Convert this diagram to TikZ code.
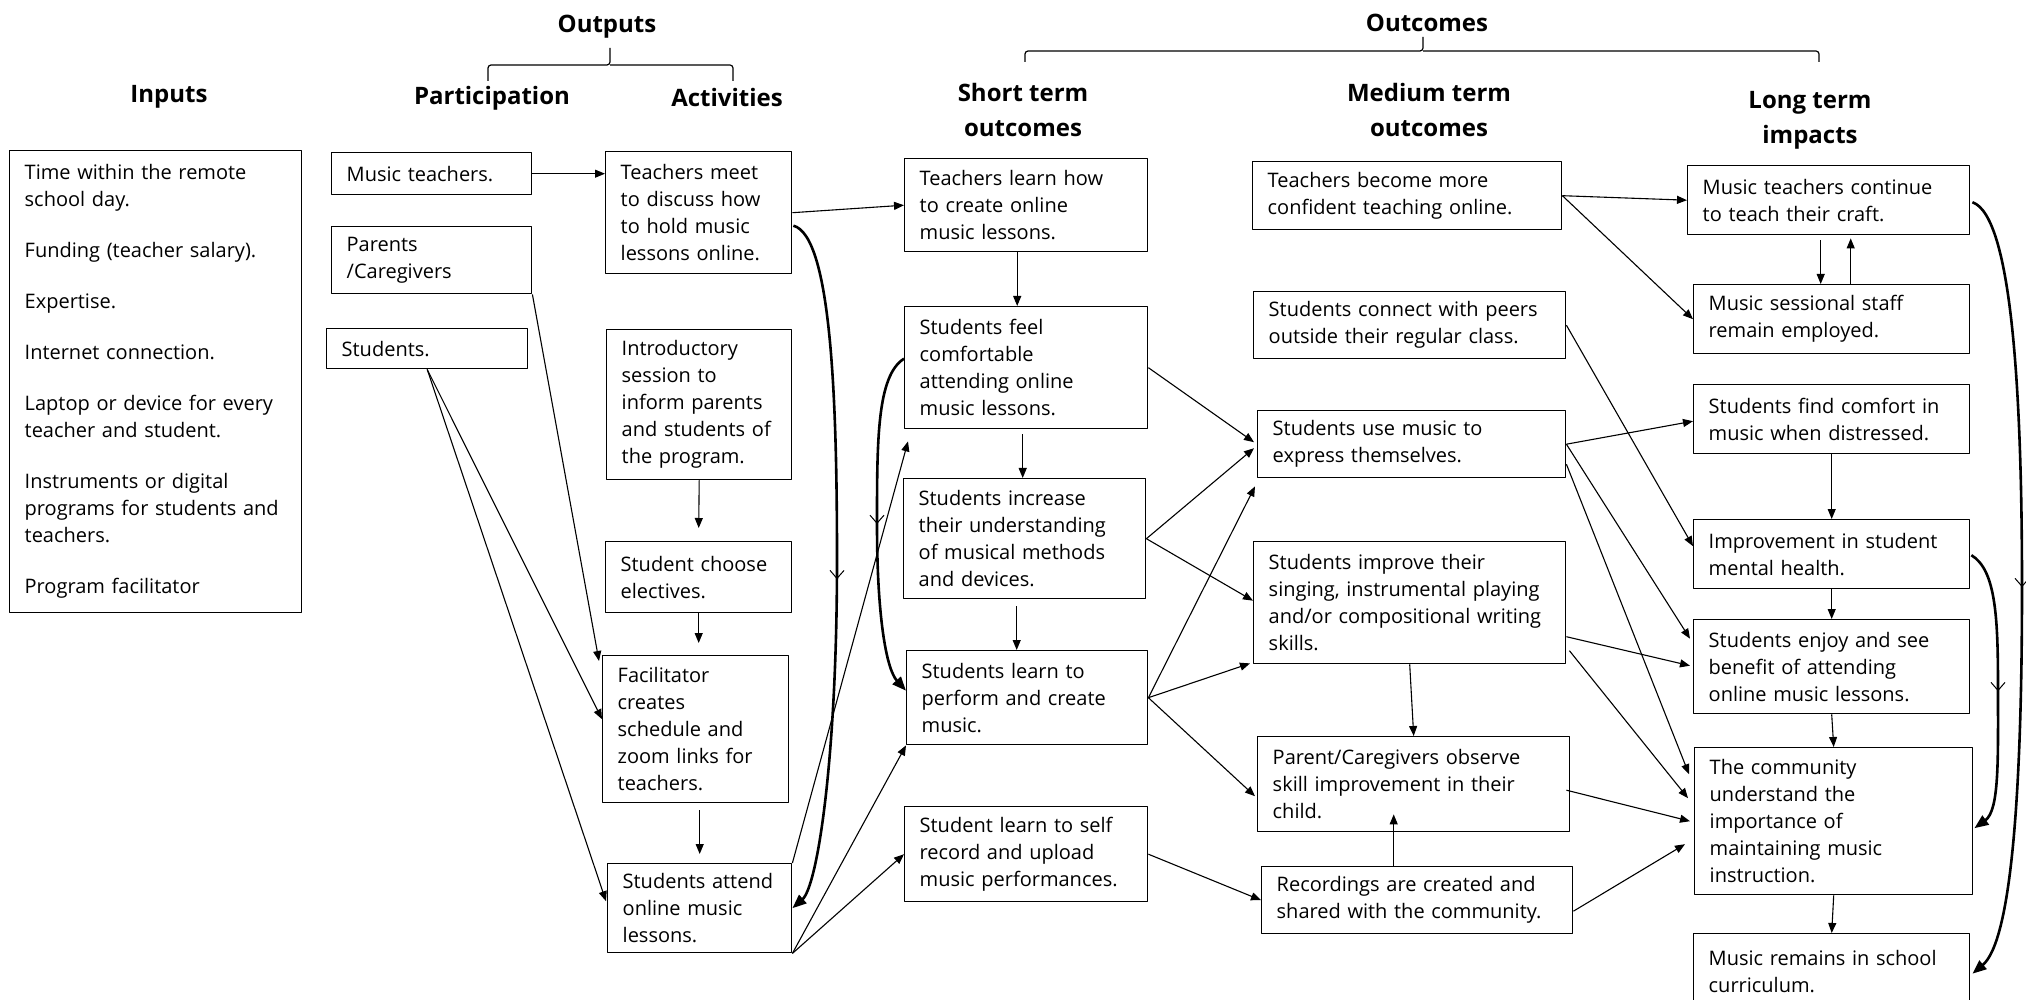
\documentclass[tikz,border=0pt]{standalone}
\usepackage{fontspec}
\setmainfont{Open Sans}
\usetikzlibrary{arrows.meta,calc,decorations.markings}
\newcommand\boxfont{\fontsize{10}{13.5}\selectfont}
\newcommand\headfont{\fontsize{12}{17.5}\selectfont\bfseries}

\begin{document}
\begin{tikzpicture}[x=0.5pt,y=-0.5pt,line join=round,
  box/.style 2 args={draw,line width=0.7pt,anchor=north west,align=left,font=\boxfont,
    inner xsep=7.5pt,inner ysep=0pt,text width={#1*0.5pt-15pt},minimum height={#2*0.5pt}},
  head/.style={font=\headfont,align=center,inner sep=0pt},
  link/.style={line width=0.55pt,-{Triangle[length=5pt,width=4pt]}},
  brace/.style={line width=0.6pt,rounded corners=1.5pt},
  loopback/.style={line width=1.3pt,-{Triangle[length=7pt,width=5.5pt]},
    postaction={decorate},decoration={markings,mark=at position #1 with
      {\arrow{Straight Barb[length=4pt,width=7pt,line width=0.5pt]}}}},
  loopback/.default=0.5]
  \useasboundingbox (0,0) rectangle (2026,1000);

  \node[head] (outputs-h) at (607,27) {Outputs};
  \node[head] (inputs-h) at (169,97) {Inputs};
  \node[head] (part-h) at (492,98) {Participation};
  \node[head] (act-h) at (727,98) {Activities};
  \node[head] (outcomes-h) at (1427,23) {Outcomes};
  \node[head] (short-h) at (1023,110) {Short term\\outcomes};
  \node[head] (medium-h) at (1429,110) {Medium term\\outcomes};
  \node[head] (long-h) at (1810,120) {Long term\\impacts};
  \draw[brace] (488,81) |- (610,65) -- (610,48);
  \draw[brace] (733,81) |- (610,65);
  \draw[brace] (1025,62) |- (1423,51) -- (1423,37);
  \draw[brace] (1819,62) |- (1423,51);

  \node[box={292}{462}] (inputs) at (9,150) {Time within the remote\\school day.\\[12pt]Funding (teacher salary).\\[12pt]Expertise.\\[12pt]Internet connection.\\[12pt]Laptop or device for every\\teacher and student.\\[12pt]Instruments or digital\\programs for students and\\teachers.\\[12pt]Program facilitator};
  \node[box={200}{42}] (musicteachers) at (331,152) {Music teachers.};
  \node[box={200}{67}] (parents) at (331,226) {Parents\\/Caregivers};
  \node[box={201}{40}] (students) at (326,328) {Students.};
  \node[box={186}{122}] (meet) at (605,151) {Teachers meet\\to discuss how\\to hold music\\lessons online.};
  \node[box={185}{150}] (intro) at (606,329) {Introductory\\session to\\inform parents\\and students of\\the program.};
  \node[box={186}{71}] (electives) at (605,541) {Student choose\\electives.};
  \node[box={186}{147}] (facilitator) at (602,655) {Facilitator\\creates\\schedule and\\zoom links for\\teachers.};
  \node[box={184}{89}] (attend) at (607,863) {Students attend\\online music\\lessons.};

  \node[box={243}{93}] (learnhow) at (904,158) {Teachers learn how\\to create online\\music lessons.};
  \node[box={243}{122}] (comfortable) at (904,306) {Students feel\\comfortable\\attending online\\music lessons.};
  \node[box={242}{120}] (understanding) at (903,478) {Students increase\\their understanding\\of musical methods\\and devices.};
  \node[box={241}{94}] (perform) at (906,650) {Students learn to\\perform and create\\music.};
  \node[box={243}{95}] (selfrecord) at (904,806) {Student learn to self\\record and upload\\music performances.};

  \node[box={309}{68}] (confident) at (1252,161) {Teachers become more\\confident teaching online.};
  \node[box={312}{67}] (peers) at (1253,291) {Students connect with peers\\outside their regular class.};
  \node[box={308}{67}] (express) at (1257,410) {Students use music to\\express themselves.};
  \node[box={312}{122}] (skills) at (1253,541) {Students improve their\\singing, instrumental playing\\and/or compositional writing\\skills.};
  \node[box={312}{95}] (observe) at (1257,736) {Parent/Caregivers observe\\skill improvement in their\\child.};
  \node[box={311}{67}] (recordings) at (1261,866) {Recordings are created and\\shared with the community.};

  \node[box={282}{69}] (craft) at (1687,165) {Music teachers continue\\to teach their craft.};
  \node[box={276}{69}] (employed) at (1693,284) {Music sessional staff\\remain employed.};
  \node[box={276}{69}] (distress) at (1693,384) {Students find comfort in\\music when distressed.};
  \node[box={276}{69}] (mental) at (1693,519) {Improvement in student\\mental health.};
  \node[box={276}{94}] (enjoy) at (1693,619) {Students enjoy and see\\benefit of attending\\online music lessons.};
  \node[box={278}{147}] (community) at (1694,747) {The community\\understand the\\importance of\\maintaining music\\instruction.};
  \node[box={276}{76}] (curriculum) at (1693,933) {Music remains in school\\curriculum.};

  \draw[link] (musicteachers.east) -- (meet.west |- musicteachers.east);
  \draw[link] (parents.south east) -- ($(facilitator.north west)+(-3,6)$);
  \draw[link] (students.south) -- ($(facilitator.west)+(0,-10)$);
  \draw[link] (students.south) -- ($(attend.west)+(-1,-7)$);
  \draw[link] (intro.south) -- ([yshift=6.5pt]electives.north);
  \draw[link] (electives.south) -- ([xshift=1.5pt,yshift=6pt]facilitator.north);
  \draw[link] ([xshift=2pt,yshift=-3.5pt]facilitator.south) -- ([yshift=4.5pt]attend.north);
  \draw[link] (attend.north east) -- ($(comfortable.south west)+(4,12)$);
  \draw[link] (attend.south east) -- (perform.south west);
  \draw[link] (attend.south east) -- (selfrecord.west);
  \draw[link] (meet.east) -- (learnhow.west);
  \coordinate (bendA) at (837,560);
  \draw[loopback=0.52] ($(meet.east)+(1,13)$) .. controls +(38,10) and +(0,-160) .. (bendA) .. controls +(0,200) and +(25,-22) .. (attend.east);
  \coordinate (bendB) at (877,525);
  \draw[loopback] ($(comfortable.west)+(0,-9)$) .. controls +(-27,17) and +(0,-85) .. (bendB) .. controls +(0,90) and +(-20,-22) .. ($(perform.west)+(0,-7)$);

  \draw[link] ([xshift=-4.5pt]learnhow.south) -- ([xshift=-4.5pt]comfortable.north);
  \draw[link] ([xshift=-1.75pt,yshift=-2.5pt]comfortable.south) -- ([xshift=-1pt]understanding.north);
  \draw[link] ([xshift=-4pt,yshift=-3.5pt]understanding.south) -- ([xshift=-5.25pt]perform.north);
  \draw[link] (comfortable.east) -- ($(express.west)+(-3,-2)$);
  \draw[link] (understanding.east) -- ($(express.west)+(-3,4)$);
  \draw[link] (understanding.east) -- ($(skills.west)+(0,-2)$);
  \draw[link] (perform.east) -- ($(express.south west)+(-2,8)$);
  \draw[link] (perform.east) -- ($(skills.south west)+(-3,-1)$);
  \draw[link] (perform.east) -- ($(observe.west)+(-2,12)$);
  \draw[link] (selfrecord.east) -- (recordings.west);
  \draw[link] (skills.south) -- (observe.north);
  \draw[link] ([xshift=-11.75pt]recordings.north) -- ([xshift=-10pt,yshift=9pt]observe.south);

  \draw[link] (confident.east) -- (craft.west);
  \draw[link] (confident.east) -- (employed.west);
  \draw[link] (peers.east) -- ($(mental.west)+(0,-8)$);
  \draw[link] (express.east) -- ($(distress.west)+(0,2)$);
  \draw[link] (express.east) -- ($(enjoy.west)+(-3,-28)$);
  \draw[link] ($(express.east)+(0,20)$) -- ($(community.west)+(-5,-47)$);
  \draw[link] ($(skills.east)+(0,34)$) -- ($(enjoy.west)+(-3,-1)$);
  \draw[link] ($(skills.east)+(3,48)$) -- ($(community.west)+(-6,-23)$);
  \draw[link] ($(observe.east)+(-4,6)$) -- ($(community.west)+(-4,0)$);
  \draw[link] ($(recordings.east)+(0,11)$) -- ($(community.west)+(-9,23)$);
  \draw[link] ([xshift=-4pt,yshift=-2.5pt]craft.south) -- ([xshift=-5.5pt]employed.north);
  \draw[link] ([xshift=9.5pt]employed.north) -- ([xshift=11pt,yshift=-1.5pt]craft.south);
  \draw[link] (distress.south) -- (mental.north);
  \draw[link] (mental.south) -- (enjoy.north);
  \draw[link] (enjoy.south) -- (community.north);
  \draw[link] (community.south) -- (curriculum.north);
  \coordinate (bendD) at (2022,587);
  \draw[loopback] ($(craft.east)+(2,2)$) .. controls +(40,14) and +(0,-190) .. (bendD) .. controls +(0,215) and +(38,-32) .. ($(curriculum.east)+(2,2)$);
  \coordinate (bendE) at (1998,690);
  \draw[loopback] ($(mental.east)+(1,1)$) .. controls +(25,15) and +(0,-70) .. (bendE) .. controls +(0,70) and +(25,-18) .. ($(community.east)+(1,7)$);
\end{tikzpicture}
\end{document}
